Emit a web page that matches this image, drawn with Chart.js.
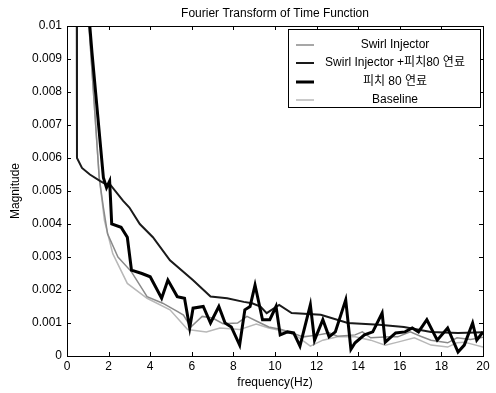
<!DOCTYPE html>
<html>
<head>
<meta charset="utf-8">
<script src="https://cdn.jsdelivr.net/npm/chart.js@4/dist/chart.umd.min.js"></script>
<style>
  html, body { margin: 0; padding: 0; background: #fff; }
  canvas { display: block; }
</style>
</head>
<body>
<canvas id="c" width="496" height="393"></canvas>
<script>
// ---- Data ----
const chartTitle = "Fourier Transform of Time Function";
const xLabel = "frequency(Hz)";
const yLabel = "Magnitude";
const xTicks = [0, 2, 4, 6, 8, 10, 12, 14, 16, 18, 20];
const yTicks = [0, 0.001, 0.002, 0.003, 0.004, 0.005, 0.006, 0.007, 0.008, 0.009, 0.01];
const seriesNames = ["Swirl Injector", "Swirl Injector +피치80 연료", "피치 80 연료", "Baseline"];

const freqSwirl = [0.95, 1.55, 1.75, 1.95, 2.45, 3.1, 3.85, 4.6, 5.3, 5.6, 5.95, 6.5, 7.0, 7.5, 8.2, 8.65, 9.3, 9.7, 10.3, 10.7, 11.35, 12.1, 12.6, 13.0, 13.85, 14.2, 14.6, 15.5, 15.9, 16.5, 17.0, 17.5, 18.3, 18.75, 19.4, 20];
const magSwirl  = [0.0110, 0.0054, 0.0045, 0.0037, 0.0030, 0.00255, 0.0018, 0.0016, 0.00135, 0.00124, 0.00088, 0.0012, 0.00115, 0.00098, 0.0010, 0.0012, 0.0010, 0.00088, 0.0008, 0.00073, 0.00058, 0.00064, 0.0007, 0.0006, 0.00064, 0.00073, 0.00055, 0.00058, 0.00058, 0.00073, 0.0006, 0.00048, 0.0004, 0.00055, 0.0005, 0.00057];

const freqSwirlPitch = [0.45, 0.48, 0.72, 1.1, 1.6, 1.9, 2.07, 2.7, 3.0, 3.5, 4.13, 4.95, 6.05, 6.9, 7.7, 8.5, 8.9, 9.3, 9.6, 10.2, 10.8, 12.2, 13.5, 15.0, 16.2, 17.5, 18.8, 20];
const magSwirlPitch  = [0.0200, 0.0060, 0.0057, 0.0055, 0.0053, 0.0052, 0.0052, 0.0047, 0.0045, 0.0040, 0.0036, 0.0029, 0.0023, 0.0018, 0.00175, 0.00164, 0.0016, 0.0015, 0.0013, 0.00155, 0.0013, 0.00125, 0.0010, 0.00095, 0.00088, 0.00073, 0.0007, 0.00072];

const freqPitch = [0.9, 1.2, 1.75, 1.9, 2.05, 2.15, 2.6, 2.9, 3.1, 3.6, 4.0, 4.55, 4.85, 5.3, 5.65, 5.9, 6.06, 6.55, 6.9, 7.3, 7.6, 7.9, 8.3, 8.55, 8.8, 9.04, 9.4, 9.75, 10.05, 10.25, 10.6, 10.9, 11.2, 11.7, 11.9, 12.3, 12.6, 12.9, 13.4, 13.65, 13.85, 14.3, 14.7, 15.15, 15.3, 15.8, 16.25, 16.6, 16.9, 17.3, 17.8, 18.3, 18.8, 19.1, 19.5, 19.7, 20];
const magPitch  = [0.0115, 0.0092, 0.0054, 0.0051, 0.0053, 0.0040, 0.0039, 0.0036, 0.0026, 0.0025, 0.0024, 0.00175, 0.0023, 0.0018, 0.00175, 0.00085, 0.00145, 0.0015, 0.0010, 0.0015, 0.0010, 0.00088, 0.00033, 0.0014, 0.0015, 0.00215, 0.0011, 0.0011, 0.0015, 0.00064, 0.00073, 0.0007, 0.0003, 0.00155, 0.00048, 0.0011, 0.00058, 0.00073, 0.0017, 0.0002, 0.0004, 0.00064, 0.00073, 0.0013, 0.00042, 0.0007, 0.00073, 0.00085, 0.00073, 0.0011, 0.00048, 0.00085, 0.00012, 0.00033, 0.0010, 0.00048, 0.00073];

const freqBase = [0.95, 1.55, 1.8, 2.2, 2.9, 3.85, 4.95, 5.8, 6.7, 7.35, 8.3, 9.1, 9.7, 10.6, 11.1, 11.7, 12.3, 13.0, 13.85, 14.6, 15.3, 15.9, 16.7, 17.5, 18.3, 18.75, 19.1, 20];
const magBase  = [0.0110, 0.0054, 0.0041, 0.0031, 0.0022, 0.00175, 0.0014, 0.0008, 0.00073, 0.00085, 0.0008, 0.00097, 0.00085, 0.00073, 0.00058, 0.0003, 0.00048, 0.00058, 0.00058, 0.00048, 0.00033, 0.00042, 0.00055, 0.00033, 0.00027, 0.0004, 0.00042, 0.00027];

// ---- Build chart ----
function pts(xs, ys) { return xs.map((x, i) => ({ x: x, y: ys[i] })); }

const FONT = "'Liberation Sans', Arial, 'Noto Sans CJK KR', sans-serif";

const styles = [
  { color: '#8a8a8a', width: 1.5 },
  { color: '#1a1a1a', width: 2 },
  { color: '#000000', width: 3 },
  { color: '#b8b8b8', width: 1.5 }
];
const seriesData = [pts(freqSwirl, magSwirl), pts(freqSwirlPitch, magSwirlPitch), pts(freqPitch, magPitch), pts(freqBase, magBase)];

const datasets = seriesNames.map((name, i) => ({
  label: name,
  data: seriesData[i],
  borderColor: styles[i].color,
  borderWidth: styles[i].width,
  pointRadius: 0,
  tension: 0,
  fill: false,
  clip: 0
}));
datasets[0].order = 3; datasets[3].order = 4; datasets[1].order = 2; datasets[2].order = 1;

const decor = {
  id: 'decor',
  afterDatasetsDraw(chart) {
    const ctx = chart.ctx;
    const a = chart.chartArea;
    const xs = chart.scales.x, ys = chart.scales.y;
    ctx.save();
    ctx.strokeStyle = '#000';
    ctx.lineWidth = 1;
    ctx.strokeRect(Math.round(a.left) + 0.5, Math.round(a.top) + 0.5, Math.round(a.right - a.left), Math.round(a.bottom - a.top));
    ctx.beginPath();
    xTicks.forEach(t => {
      const px = Math.round(xs.getPixelForValue(t)) + 0.5;
      ctx.moveTo(px, a.bottom); ctx.lineTo(px, a.bottom - 4);
      ctx.moveTo(px, a.top); ctx.lineTo(px, a.top + 4);
    });
    yTicks.forEach(t => {
      const py = Math.round(ys.getPixelForValue(t)) + 0.5;
      ctx.moveTo(a.left, py); ctx.lineTo(a.left + 4, py);
      ctx.moveTo(a.right, py); ctx.lineTo(a.right - 4, py);
    });
    ctx.stroke();
    ctx.fillStyle = '#000';
    ctx.font = '12px ' + FONT;
    ctx.textAlign = 'center';
    ctx.textBaseline = 'middle';
    ctx.fillText(chartTitle, (a.left + a.right) / 2, 14);
    ctx.fillText(xLabel, (a.left + a.right) / 2, 383);
    ctx.save();
    ctx.translate(16, (a.top + a.bottom) / 2);
    ctx.rotate(-Math.PI / 2);
    ctx.fillText(yLabel, 0, 0);
    ctx.restore();
    // legend
    const L = 288, T = 29, R = 480, B = 107;
    ctx.fillStyle = '#fff';
    ctx.fillRect(L, T, R - L, B - T);
    ctx.strokeStyle = '#000';
    ctx.lineWidth = 1;
    ctx.strokeRect(L + 0.5, T + 0.5, R - L, B - T);
    const rows = [45, 63, 82, 100];
    seriesNames.forEach((name, i) => {
      ctx.strokeStyle = styles[i].color;
      ctx.lineWidth = styles[i].width;
      ctx.beginPath();
      ctx.moveTo(296, rows[i]); ctx.lineTo(314, rows[i]);
      ctx.stroke();
      ctx.fillStyle = '#000';
      ctx.font = '12px ' + FONT;
      ctx.textAlign = 'center';
      ctx.fillText(name, 395, rows[i]);
    });
    ctx.restore();
  }
};

new Chart(document.getElementById('c'), {
  type: 'line',
  data: { datasets: datasets },
  options: {
    responsive: false,
    animation: false,
    devicePixelRatio: 1,
    layout: { padding: { top: 26, right: 13, left: 0, bottom: 0 } },
    plugins: { legend: { display: false }, title: { display: false }, tooltip: { enabled: false } },
    scales: {
      x: {
        type: 'linear', min: 0, max: 20,
        afterBuildTicks(s) { s.ticks = xTicks.map(v => ({ value: v })); },
        afterFit(s) { s.height = 37; },
        grid: { display: false, drawTicks: false, tickLength: 0 },
        border: { display: false },
        ticks: { color: '#000', padding: 3, font: { family: FONT, size: 12 }, maxRotation: 0, callback: v => String(v) }
      },
      y: {
        type: 'linear', min: 0, max: 0.01,
        afterBuildTicks(s) { s.ticks = yTicks.map(v => ({ value: v })); },
        afterFit(s) { s.width = 67; },
        grid: { display: false, drawTicks: false, tickLength: 0 },
        border: { display: false },
        ticks: { color: '#000', padding: 5, font: { family: FONT, size: 12 }, callback: v => String(+v.toFixed(3)) }
      }
    }
  },
  plugins: [decor]
});
</script>
</body>
</html>
